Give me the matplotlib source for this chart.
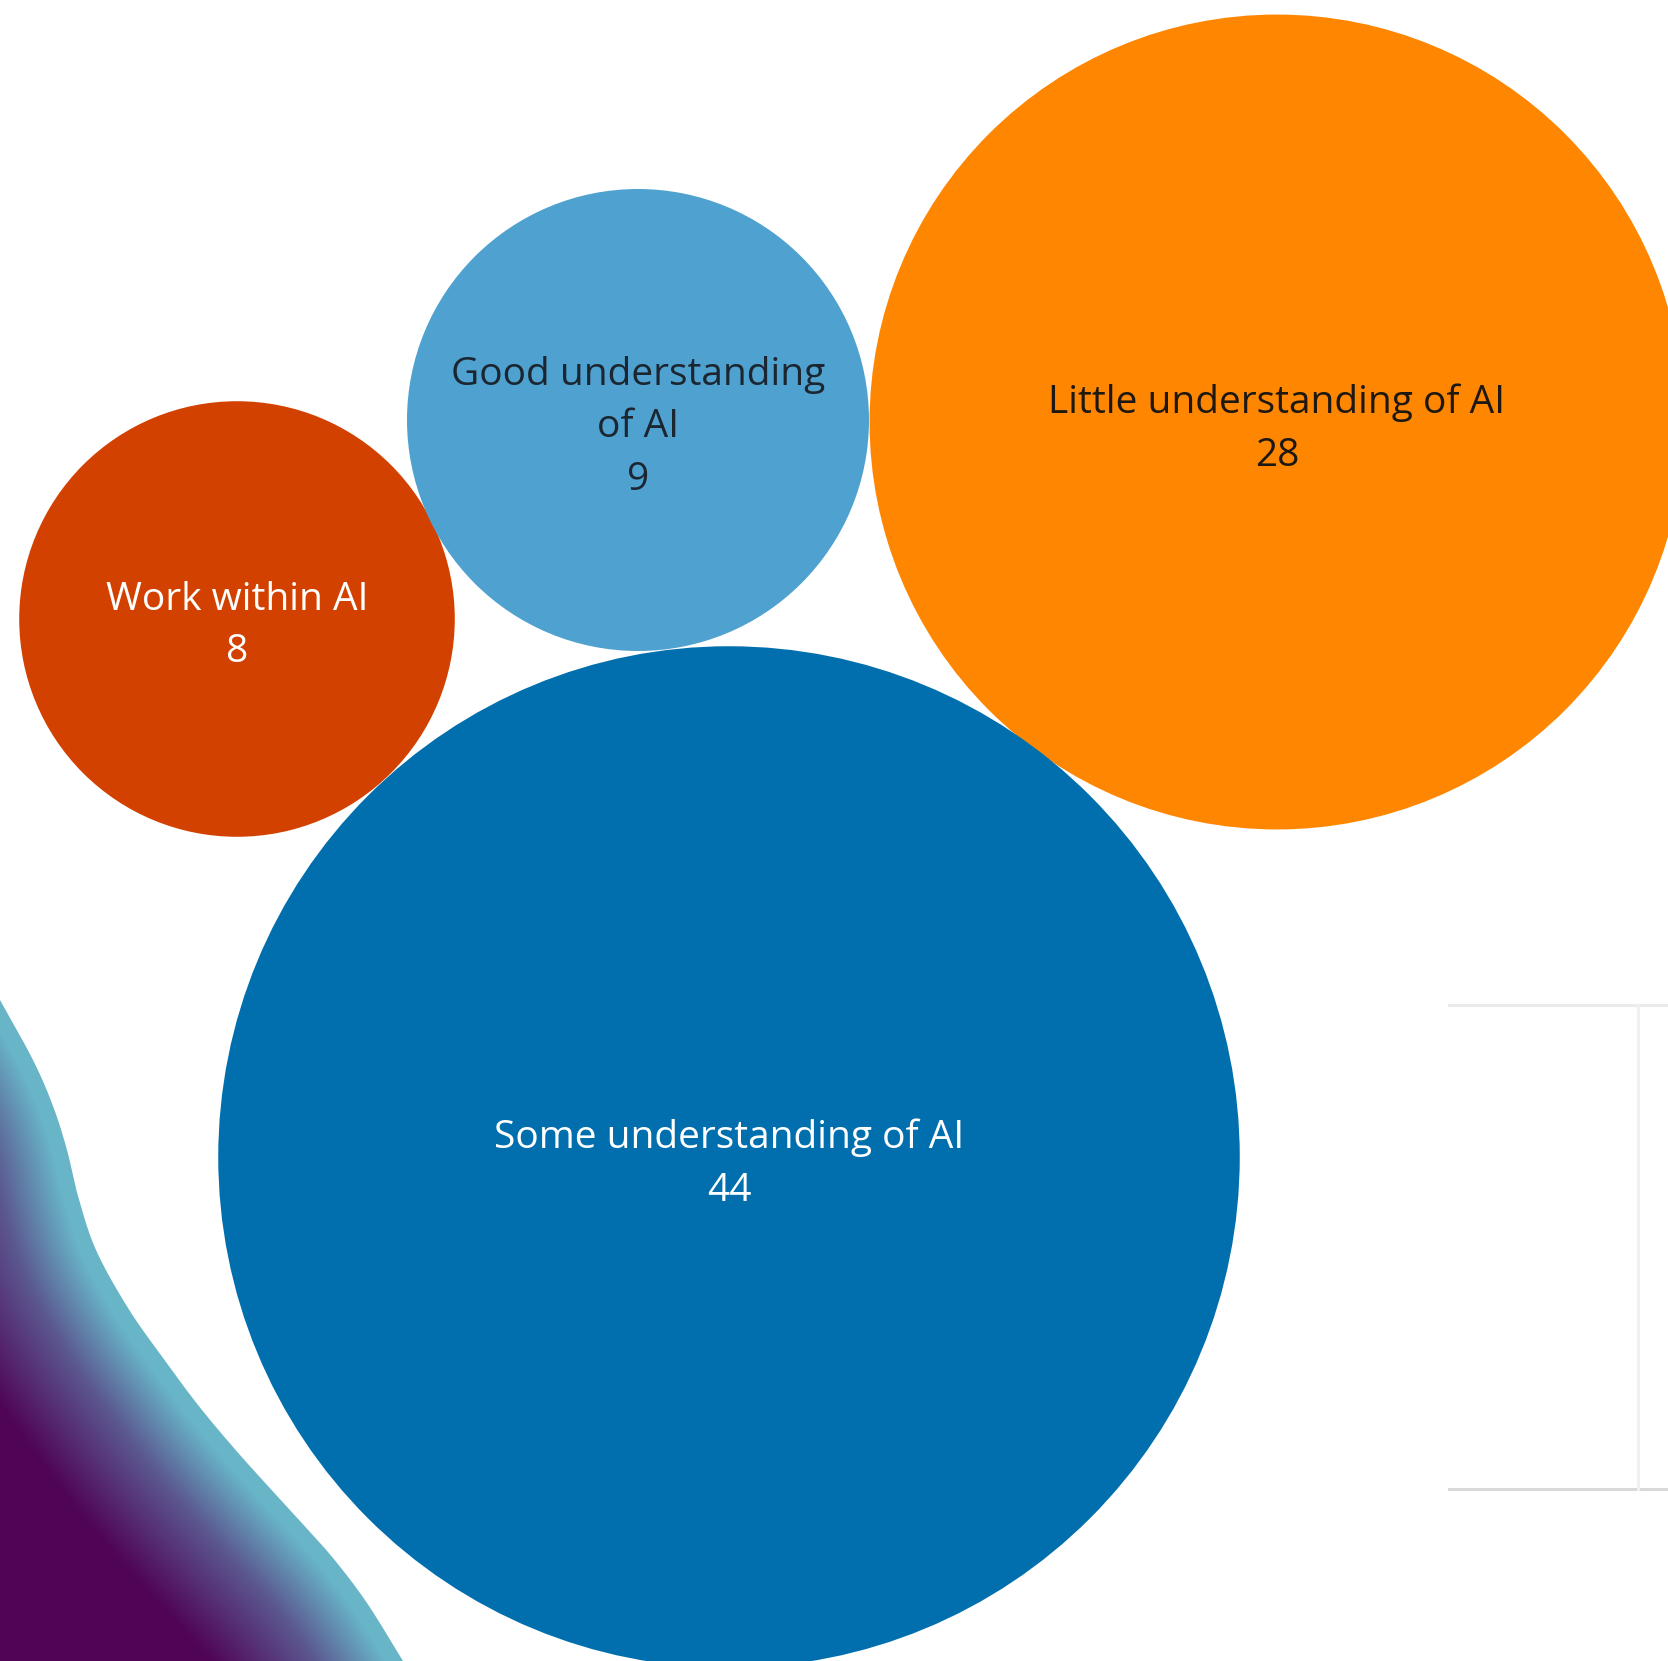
import numpy as np
import matplotlib
matplotlib.use("Agg")
import matplotlib.pyplot as plt
from matplotlib.patches import Circle, PathPatch
from matplotlib.path import Path

plt.rcParams['font.family'] = ['Open Sans', 'DejaVu Sans']

# ---- data ----
categories = ["Work within AI", "Good understanding\nof AI",
              "Little understanding of AI", "Some understanding of AI"]
values = [8, 9, 28, 44]
colors = ["#d34100", "#4fa1d0", "#fe8600", "#016fae"]
text_colors = ["#ffffff", "#1c2630", "#1e1812", "#ffffff"]

# ---- layout (pixel coordinates of the packed bubbles) ----
centers = [(237, 619), (638, 420), (1277, 422), (729, 1157)]
scale = 77.0  # px per sqrt(value)

W, H = 1668, 1661
fig = plt.figure(figsize=(W / 100, H / 100), dpi=100)
ax = fig.add_axes([0, 0, 1, 1])
ax.set_xlim(0, W)
ax.set_ylim(H, 0)
ax.set_aspect('equal')
ax.axis('off')

# ---- decorative gradient swoosh, bottom-left ----
ctrl = np.array([(0, 1000), (33, 1060), (53, 1106), (67, 1150), (78, 1196),
                 (96, 1250), (128, 1308), (163, 1358), (198, 1405),
                 (233, 1447), (267, 1485), (300, 1521), (333, 1558),
                 (367, 1603), (403, 1661)], float)
# Catmull-Rom smoothing of the outline
P = np.vstack([2 * ctrl[0] - ctrl[1], ctrl, 2 * ctrl[-1] - ctrl[-2]])
tt = np.linspace(0, 1, 30, endpoint=False)[:, None]
seg = []
for i in range(1, len(P) - 2):
    p0, p1, p2, p3 = P[i - 1], P[i], P[i + 1], P[i + 2]
    seg.append(0.5 * ((2 * p1) + (-p0 + p2) * tt +
                      (2 * p0 - 5 * p1 + 4 * p2 - p3) * tt ** 2 +
                      (-p0 + 3 * p1 - 3 * p2 + p3) * tt ** 3))
seg.append(ctrl[-1:])
edge = np.vstack(seg)
poly = np.vstack([edge, [(406, 1668), (-5, 1668), (-5, 1000)]])
patch = PathPatch(Path(poly), facecolor='none', edgecolor='none')
ax.add_patch(patch)

gx, gy = np.meshgrid(np.arange(0, 420, 1.0), np.arange(985, 1662, 1.0))
d = np.full(gx.shape, 1e9)
for px, py in edge[::2]:
    d = np.minimum(d, (gx - px) ** 2 + (gy - py) ** 2)
d = np.sqrt(d)
teal = np.array([0x68, 0xb5, 0xc7]) / 255
mid = np.array([0x5b, 0x58, 0x90]) / 255
purp = np.array([0x50, 0x04, 0x56]) / 255
d3 = d[..., None]
f1 = np.clip((d3 - 15) / 60.0, 0, 1)
f2 = np.clip((d3 - 75) / 85.0, 0, 1)
img = np.where(d3 < 75, teal + (mid - teal) * f1, mid + (purp - mid) * f2)
im = ax.imshow(img, extent=(0, 420, 1662, 985), origin='upper',
               interpolation='bilinear', zorder=1)
im.set_clip_path(patch)

# ---- faint grey frame at right ----
ax.plot([1449, 1668], [1005, 1005], color="#ebebeb", lw=2.2, zorder=1)
ax.plot([1449, 1668], [1489, 1489], color="#d9d9d9", lw=2.2, zorder=1)
ax.plot([1638, 1638], [1005, 1489], color="#f0f0f0", lw=2.2, zorder=1)

# ---- bubbles ----
for cat, v, c, tc, (cx, cy) in zip(categories, values, colors, text_colors, centers):
    r = scale * np.sqrt(v)
    ax.add_patch(Circle((cx, cy), r, facecolor=c, edgecolor='none', zorder=2))
    ax.text(cx, cy + 7, f"{cat}\n{v}", ha='center', va='center', color=tc,
            fontsize=28, linespacing=1.5, zorder=3)

fig.savefig("out.png", dpi=100)
